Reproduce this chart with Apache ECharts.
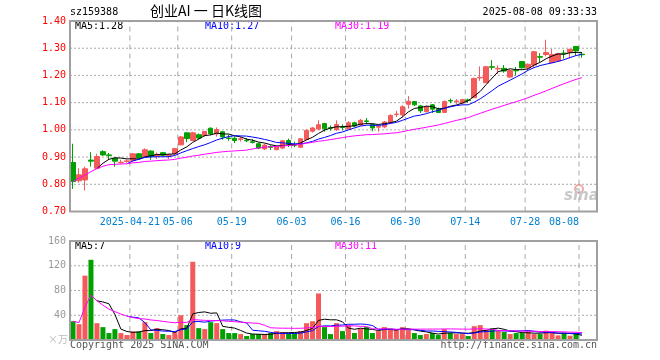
<!DOCTYPE html>
<html>
<head>
<meta charset="utf-8">
<title>创业AI 日K线图</title>
<script src="https://cdn.jsdelivr.net/npm/echarts@6/dist/echarts.min.js"></script>
<style>
html, body { margin: 0; padding: 0; background: #fff; }
#main { width: 660px; height: 360px; }
</style>
</head>
<body>
<div id="main"></div>
<script>
// trading days, 2025-04-07 .. 2025-08-08
var dates = [
  '2025-04-07','2025-04-08','2025-04-09','2025-04-10','2025-04-11','2025-04-14','2025-04-15','2025-04-16','2025-04-17','2025-04-18',
  '2025-04-21','2025-04-22','2025-04-23','2025-04-24','2025-04-25','2025-04-28','2025-04-29','2025-04-30',
  '2025-05-06','2025-05-07','2025-05-08','2025-05-09','2025-05-12','2025-05-13','2025-05-14','2025-05-15','2025-05-16',
  '2025-05-19','2025-05-20','2025-05-21','2025-05-22','2025-05-23','2025-05-26','2025-05-27','2025-05-28','2025-05-29','2025-05-30',
  '2025-06-03','2025-06-04','2025-06-05','2025-06-06','2025-06-09','2025-06-10','2025-06-11','2025-06-12','2025-06-13',
  '2025-06-16','2025-06-17','2025-06-18','2025-06-19','2025-06-20','2025-06-23','2025-06-24','2025-06-25','2025-06-26','2025-06-27',
  '2025-06-30','2025-07-01','2025-07-02','2025-07-03','2025-07-04','2025-07-07','2025-07-08','2025-07-09','2025-07-10','2025-07-11',
  '2025-07-14','2025-07-15','2025-07-16','2025-07-17','2025-07-18','2025-07-21','2025-07-22','2025-07-23','2025-07-24','2025-07-25',
  '2025-07-28','2025-07-29','2025-07-30','2025-07-31','2025-08-01','2025-08-04','2025-08-05','2025-08-06','2025-08-07','2025-08-08'
];
var opens = [
  0.880,0.813,0.816,0.889,0.859,0.920,0.908,0.896,0.879,0.884,
  0.887,0.912,0.902,0.922,0.905,0.916,0.906,0.912,0.945,0.989,
  0.961,0.982,0.979,1.006,0.985,0.993,0.970,0.969,0.965,0.962,
  0.956,0.949,0.930,0.938,0.927,0.933,0.961,0.945,0.936,0.964,
  0.995,1.003,1.023,1.008,1.001,1.011,1.004,1.026,1.018,1.033,
  1.020,1.010,1.011,1.026,1.056,1.055,1.094,1.104,1.088,1.067,
  1.092,1.076,1.064,1.108,1.104,1.099,1.110,1.118,1.191,1.173,
  1.232,1.224,1.226,1.194,1.219,1.251,1.228,1.238,1.269,1.277,
  1.247,1.253,1.282,1.284,1.306,1.278
];
var closes = [
  0.810,0.835,0.857,0.885,0.902,0.908,0.906,0.885,0.881,0.886,
  0.912,0.896,0.927,0.902,0.910,0.907,0.908,0.931,0.974,0.968,
  0.989,0.970,0.994,0.986,1.001,0.974,0.968,0.961,0.967,0.960,
  0.954,0.933,0.944,0.936,0.939,0.960,0.949,0.943,0.967,0.998,
  1.007,1.019,1.004,1.006,1.020,1.009,1.026,1.014,1.035,1.031,
  1.007,1.012,1.029,1.053,1.058,1.085,1.105,1.092,1.070,1.084,
  1.076,1.064,1.104,1.106,1.106,1.111,1.108,1.189,1.193,1.232,
  1.230,1.226,1.216,1.218,1.217,1.228,1.241,1.287,1.267,1.284,
  1.277,1.280,1.280,1.296,1.290,1.276
];
var lows = [
  0.783,0.806,0.777,0.865,0.857,0.904,0.890,0.865,0.876,0.879,
  0.884,0.890,0.897,0.890,0.893,0.904,0.893,0.908,0.943,0.955,
  0.958,0.964,0.975,0.981,0.975,0.964,0.960,0.952,0.957,0.955,
  0.950,0.929,0.926,0.926,0.925,0.930,0.937,0.936,0.933,0.962,
  0.990,0.999,0.993,0.997,0.996,0.998,1.000,1.010,1.015,1.021,
  0.995,0.993,1.006,1.022,1.047,1.045,1.078,1.087,1.062,1.063,
  1.062,1.062,1.064,1.098,1.095,1.093,1.100,1.118,1.180,1.173,
  1.220,1.205,1.210,1.190,1.200,1.225,1.220,1.228,1.248,1.270,
  1.245,1.250,1.262,1.263,1.273,1.265
];
var highs = [
  0.949,0.859,0.865,0.918,0.912,0.925,0.915,0.898,0.890,0.891,
  0.915,0.915,0.932,0.925,0.917,0.918,0.913,0.934,0.978,0.991,
  0.993,0.987,0.996,1.009,1.009,0.994,0.983,0.976,0.975,0.970,
  0.966,0.953,0.949,0.944,0.942,0.963,0.968,0.957,0.970,1.002,
  1.011,1.035,1.026,1.016,1.035,1.020,1.032,1.030,1.040,1.043,
  1.024,1.020,1.033,1.057,1.070,1.090,1.124,1.106,1.092,1.089,
  1.095,1.082,1.108,1.115,1.113,1.114,1.115,1.192,1.233,1.235,
  1.256,1.237,1.238,1.222,1.231,1.253,1.244,1.290,1.282,1.331,
  1.297,1.283,1.293,1.298,1.308,1.283
];
// volume, 万
var volumes = [
  30.4,25.6,104,129.6,27.2,20.8,11.2,17.6,11.2,8,
  13.9,13.9,28.8,11.2,19.2,9.6,8,12.8,40,24,
  126.4,19.2,17.6,28.8,27.2,17.6,11.2,11.2,9.6,6.4,
  9.6,9.6,9.6,11.2,14.4,12.8,11.2,11.2,14.4,27.2,
  30.4,75.2,20.8,9.6,27.2,14.4,24,11.2,18.7,20.8,
  11.2,14.4,20.8,17.6,16,20.8,16,11.2,8,9.6,
  11.2,8,17.6,11.2,9.6,9.6,6.4,22.4,24,16,
  19.2,14.4,12.8,9.6,11.2,11.2,13.5,9.6,9.6,15,
  12,7.5,11,7,11,1.5
];
var tickDates = ['2025-04-21','2025-05-06','2025-05-19','2025-06-03','2025-06-16','2025-06-30','2025-07-14','2025-07-28','2025-08-08'];
var tickLabels = ['2025-04-21','05-06','05-19','06-03','06-16','06-30','07-14','07-28','08-08'];
var priceTicks = [0.70, 0.80, 0.90, 1.00, 1.10, 1.20, 1.30, 1.40];
var volTicks = [0, 40, 80, 120, 160];

var RED = '#f55a5a', GREEN = '#00a000', GRIDC = '#a8a8a8';
var MONO = 'DejaVu Sans Mono';
var G0 = { left: 70, top: 21, width: 527, height: 190.5 };
var G1 = { left: 70, top: 241, width: 527, height: 99 };

// MA30 is averaged over whatever is available at the start, like the original
function calcMA(arr, n, fromStart) {
  var out = [];
  for (var i = 0; i < arr.length; i++) {
    if (i < n - 1 && !fromStart) { out.push('-'); continue; }
    var s = 0, c = 0;
    for (var j = Math.max(0, i - n + 1); j <= i; j++) { s += arr[j]; c++; }
    out.push(+(s / c).toFixed(4));
  }
  return out;
}

var cats = dates.concat(['', '']);
// edge axes: one more slot, boundaryGap false -> values sit on the slot edges
var edgeCats = cats.concat(['']);
var kData = dates.map(function (d, i) { return [opens[i], closes[i], lows[i], highs[i]]; });
var volData = volumes.map(function (v, i) {
  return { value: v, itemStyle: { color: closes[i] >= opens[i] ? RED : GREEN } };
});

function makeX(gi) {
  return {
    type: 'category', gridIndex: gi, data: cats, boundaryGap: true, position: 'bottom',
    axisLine: { show: false }, axisTick: { show: false }, axisLabel: { show: false }, splitLine: { show: false }
  };
}

function edgeX(gi, showLabel) {
  return {
    type: 'category', gridIndex: gi, data: edgeCats, boundaryGap: false, position: 'bottom',
    axisLine: { show: false }, axisTick: { show: false }, splitLine: { show: false },
    axisLabel: {
      show: showLabel, interval: 0, color: '#0080d0', fontFamily: MONO, fontSize: 10, margin: 6,
      formatter: function (v) {
        var k = tickDates.indexOf(v);
        if (k < 0) return '';
        // last label ends at its line, like the original
        return k === tickDates.length - 1 ? tickLabels[k] + '     ' : tickLabels[k];
      }
    }
  };
}

// grid lines as plain line series on the edge axes
function gridSeries(xi, yi, ticks) {
  var out = [];
  var lo = ticks[0], hi = ticks[ticks.length - 1];
  tickDates.forEach(function (d) {
    out.push({
      type: 'line', xAxisIndex: xi, yAxisIndex: yi, z: 1, silent: true, symbol: 'none',
      data: [[d, lo], [d, hi]],
      lineStyle: { color: GRIDC, width: 1, type: [5, 4] }
    });
  });
  ticks.slice(1, -1).forEach(function (t) {
    out.push({
      type: 'line', xAxisIndex: xi, yAxisIndex: yi, z: 1, silent: true, symbol: 'none',
      data: edgeCats.map(function () { return t; }),
      lineStyle: { color: GRIDC, width: 1, type: [2, 2] }
    });
  });
  return out;
}

function lineSeries(name, data, color, xi, yi) {
  return {
    name: name, type: 'line', data: data, xAxisIndex: xi, yAxisIndex: yi,
    symbol: 'none', smooth: false, lineStyle: { width: 1, color: color }, z: 5
  };
}

function frame(g) {
  return { type: 'rect', shape: { x: g.left, y: g.top, width: g.width, height: g.height },
    style: { fill: 'none', stroke: '#a0a0a0', lineWidth: 2 }, z: 10, silent: true };
}

var series = gridSeries(2, 0, priceTicks).concat(gridSeries(3, 1, volTicks)).concat([
  {
    type: 'candlestick', data: kData, xAxisIndex: 0, yAxisIndex: 0, barWidth: 5, z: 2,
    itemStyle: { color: RED, color0: GREEN, borderColor: RED, borderColor0: GREEN, borderWidth: 1 }
  },
  lineSeries('MA5', calcMA(closes, 5), '#000000', 0, 0),
  lineSeries('MA10', calcMA(closes, 10), '#0000ff', 0, 0),
  lineSeries('MA30', calcMA(closes, 30, true), '#ff00ff', 0, 0),
  { type: 'bar', data: volData, xAxisIndex: 1, yAxisIndex: 1, barWidth: 5, z: 2 },
  lineSeries('VMA5', calcMA(volumes, 5), '#000000', 1, 1),
  lineSeries('VMA10', calcMA(volumes, 10), '#0000ff', 1, 1),
  lineSeries('VMA30', calcMA(volumes, 30, true), '#ff00ff', 1, 1)
]);

var chart = echarts.init(document.getElementById('main'));
chart.setOption({
  animation: false,
  grid: [G0, G1],
  xAxis: [makeX(0), makeX(1), edgeX(0, true), edgeX(1, false)],
  yAxis: [
    {
      type: 'value', gridIndex: 0, min: priceTicks[0], max: priceTicks[priceTicks.length - 1], interval: 0.1,
      axisLine: { show: false }, axisTick: { show: false }, splitLine: { show: false },
      axisLabel: { color: '#ff0000', fontFamily: MONO, fontSize: 10, margin: 4,
        formatter: function (v) { return typeof v === 'number' ? v.toFixed(2) : v; } }
    },
    {
      type: 'value', gridIndex: 1, min: volTicks[0], max: volTicks[volTicks.length - 1], interval: 40,
      axisLine: { show: false }, axisTick: { show: false }, splitLine: { show: false },
      axisLabel: { color: '#999', fontFamily: MONO, fontSize: 10, margin: 4,
        formatter: function (v) { return v === 0 ? '' : String(v); } }
    }
  ],
  series: series,
  graphic: [
    frame(G0), frame(G1),
    { type: 'text', left: 70, top: 7, style: { text: 'sz159388', font: '10px "DejaVu Sans Mono"', fill: '#000' } },
    { type: 'text', left: 150, top: 4, style: { text: '创业AI 一 日K线图', font: '14px "Noto Sans CJK SC"', fill: '#000' } },
    { type: 'text', right: 63, top: 7, style: { text: '2025-08-08 09:33:33', font: '10px "DejaVu Sans Mono"', fill: '#000' } },
    { type: 'text', left: 75, top: 21, style: { text: 'MA5:1.28', font: '10px "DejaVu Sans Mono"', fill: '#000' } },
    { type: 'text', left: 205, top: 21, style: { text: 'MA10:1.27', font: '10px "DejaVu Sans Mono"', fill: '#0000ff' } },
    { type: 'text', left: 335, top: 21, style: { text: 'MA30:1.19', font: '10px "DejaVu Sans Mono"', fill: '#ff00ff' } },
    { type: 'text', left: 75, top: 241, style: { text: 'MA5:7', font: '10px "DejaVu Sans Mono"', fill: '#000' } },
    { type: 'text', left: 205, top: 241, style: { text: 'MA10:9', font: '10px "DejaVu Sans Mono"', fill: '#0000ff' } },
    { type: 'text', left: 335, top: 241, style: { text: 'MA30:11', font: '10px "DejaVu Sans Mono"', fill: '#ff00ff' } },
    { type: 'text', left: 48, top: 334, style: { text: '×万', font: '10px "Noto Sans CJK SC"', fill: '#bbb' } },
    { type: 'text', left: 70, top: 340, style: { text: 'Copyright 2025 SINA.COM', font: '10px "DejaVu Sans Mono"', fill: '#555' } },
    { type: 'text', right: 63, top: 340, style: { text: 'http://finance.sina.com.cn', font: '10px "DejaVu Sans Mono"', fill: '#555' } },
    // sina watermark
    { type: 'circle', shape: { cx: 579, cy: 189, r: 4 }, style: { fill: 'none', stroke: '#f4a8a8', lineWidth: 2 }, z: 1 },
    { type: 'text', left: 564, top: 189, style: { text: 'sina', font: 'italic bold 15px "DejaVu Sans"', fill: '#c8c8c8' }, z: 1 }
  ]
});
</script>
</body>
</html>
